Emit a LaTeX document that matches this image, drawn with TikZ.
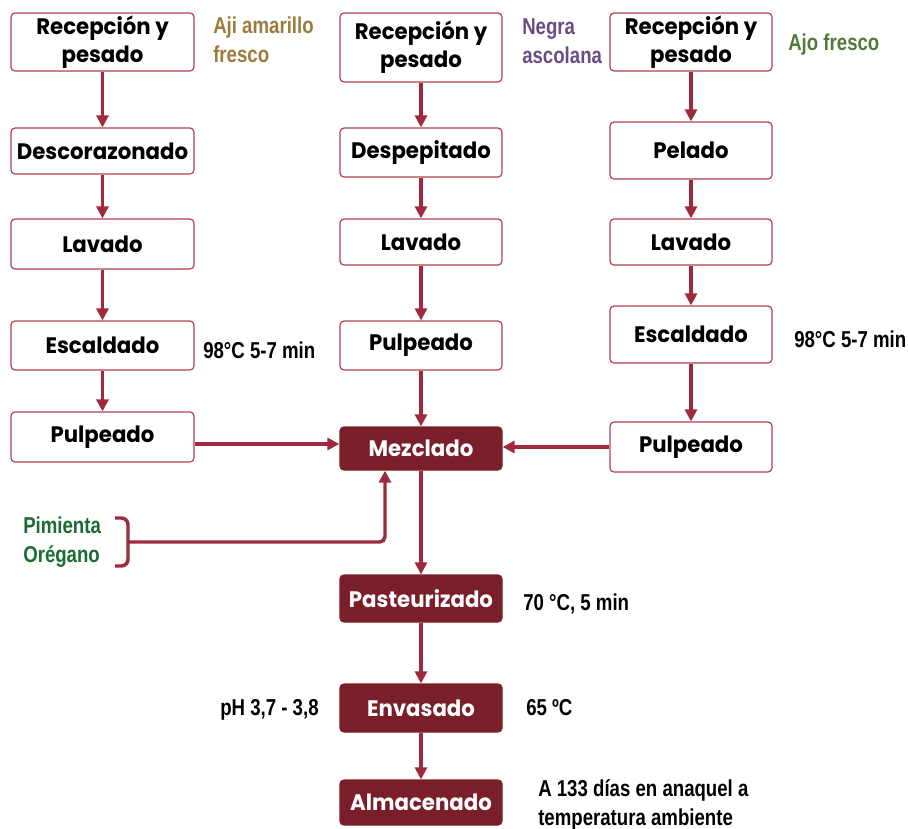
\documentclass[tikz,border=0pt]{standalone}
\usepackage{fontspec}
\usetikzlibrary{arrows.meta}
\newfontfamily\boxfont{Poppins}[FakeStretch=0.95]
\newfontfamily\lblfont{Liberation Sans}[FakeStretch=0.81]
\definecolor{boxred}{HTML}{B0404F}
\definecolor{darkred}{HTML}{7A1E2A}
\definecolor{arrred}{HTML}{9E2A3B}
\definecolor{ajicol}{HTML}{9C7A3C}
\definecolor{negracol}{HTML}{6A4C85}
\definecolor{ajocol}{HTML}{4F7A3A}
\definecolor{pimcol}{HTML}{1B6B32}
\begin{document}
\begin{tikzpicture}[x=0.75pt,y=-0.75pt,
  stepbox/.style={draw=boxred,line width=0.9pt,rounded corners=3pt,fill=white,
    font=\boxfont\bfseries\fontsize{16.8pt}{21pt}\selectfont,text=black,align=center,inner sep=0pt},
  darkbox/.style={stepbox,draw=darkred,fill=darkred,text=white},
  lbl/.style={font=\lblfont\bfseries\fontsize{17.25pt}{21.75pt}\selectfont,inner sep=0pt,anchor=base west,align=left},
  flow/.style={draw=arrred,line width=2.6pt,-{Triangle[length=9pt,width=9pt]}},
  bracket/.style={draw=arrred,line width=2.6pt,rounded corners=5pt}]
\useasboundingbox (0,0) rectangle (908,829);
% left column
\node[stepbox,minimum width=137.25pt,minimum height=43.5pt] (L1) at (102.5,42) {Recepción y\\pesado};
\node[stepbox,minimum width=137.25pt,minimum height=34.5pt] (L2) at (102.5,151) {Descorazonado};
\node[stepbox,minimum width=137.25pt,minimum height=37.5pt] (L3) at (102.5,244) {Lavado};
\node[stepbox,minimum width=137.25pt,minimum height=36.75pt] (L4) at (102.5,345.5) {Escaldado};
\node[stepbox,minimum width=137.25pt,minimum height=37.5pt] (L5) at (102.5,437) {Pulpeado};
% middle column
\node[stepbox,minimum width=121.5pt,minimum height=51.75pt] (M1) at (421,47.5) {Recepción y\\pesado};
\node[stepbox,minimum width=121.5pt,minimum height=36.75pt] (M2) at (421,152.5) {Despepitado};
\node[stepbox,minimum width=121.5pt,minimum height=34.5pt] (M3) at (421,242) {Lavado};
\node[stepbox,minimum width=121.5pt,minimum height=36.75pt] (M4) at (421,345.5) {Pulpeado};
\node[darkbox,minimum width=121.5pt,minimum height=32.25pt] (Mez) at (421,448.5) {Mezclado};
\node[darkbox,minimum width=121.5pt,minimum height=35.25pt] (Past) at (421,598.5) {Pasteurizado};
\node[darkbox,minimum width=121.5pt,minimum height=36pt] (Env) at (421,708) {Envasado};
\node[darkbox,minimum width=121.5pt,minimum height=33.75pt] (Alm) at (421,802.5) {Almacenado};
% right column
\node[stepbox,minimum width=121.5pt,minimum height=43.5pt] (R1) at (691,42) {Recepción y\\pesado};
\node[stepbox,minimum width=121.5pt,minimum height=42.75pt] (R2) at (691,150.5) {Pelado};
\node[stepbox,minimum width=121.5pt,minimum height=34.5pt] (R3) at (691,242) {Lavado};
\node[stepbox,minimum width=121.5pt,minimum height=42.75pt] (R4) at (691,334.5) {Escaldado};
\node[stepbox,minimum width=121.5pt,minimum height=37.5pt] (R5) at (691,447) {Pulpeado};
% labels
\node[lbl,text=ajicol] (tAji) at (213,62) {Aji amarillo\\fresco};
\node[lbl,text=negracol] (tNegra) at (522,63) {Negra\\ascolana};
\node[lbl,text=ajocol] (tAjo) at (788,50) {Ajo fresco};
\node[lbl] (tEscL) at (203,358) {98°C 5-7 min};
\node[lbl] (tEscR) at (794,347) {98°C 5-7 min};
\node[lbl] (tPast) at (523,610) {70 °C, 5 min};
\node[lbl] (tPH) at (220,715) {pH 3,7 - 3,8};
\node[lbl] (tEnv) at (526,715) {65 ºC};
\node[lbl] (tAlm) at (538,825) {A 133 días en anaquel a\\temperatura ambiente};
\node[lbl,text=pimcol] (tPim) at (23,562) {Pimienta\\Orégano};
% arrows
\draw[flow] (L1) -- (L2);
\draw[flow] (L2) -- (L3);
\draw[flow] (L3) -- (L4);
\draw[flow] (L4) -- (L5);
\draw[flow] (M1) -- (M2);
\draw[flow] (M2) -- (M3);
\draw[flow] (M3) -- (M4);
\draw[flow] (M4) -- (Mez);
\draw[flow] (Mez) -- (Past);
\draw[flow] (Past) -- (Env);
\draw[flow] (Env) -- (Alm);
\draw[flow] (R1) -- (R2);
\draw[flow] (R2) -- (R3);
\draw[flow] (R3) -- (R4);
\draw[flow] (R4) -- (R5);
\draw[flow] ([yshift=-5.25pt]L5.east) -- ([yshift=-5.25pt]L5.east -| Mez.west);
\draw[flow] (R5.west) -- (R5.west -| Mez.east);
% bracket and spices line
\coordinate (bA) at (115,518);
\coordinate (bB) at (115,566);
\coordinate (bM) at (128,542);
\draw[bracket] (bA) -| (bM) |- (bB);
\draw[flow,rounded corners=4pt] (bM) -| ([xshift=-27pt]Mez.south);
\end{tikzpicture}
\end{document}
